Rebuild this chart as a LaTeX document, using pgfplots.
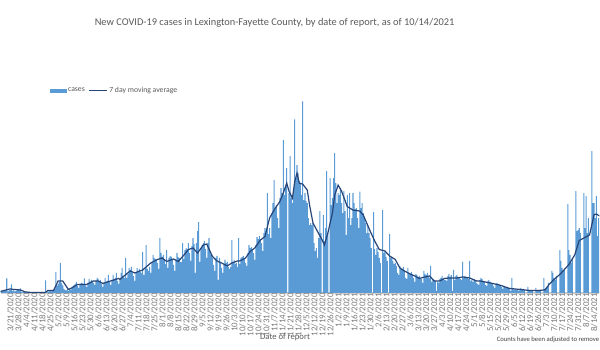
\documentclass[border=0pt]{standalone}
\usepackage{fontspec}
\setmainfont{Carlito}
\usepackage{pgfplots}
\usepackage{pgfplotstable}
\pgfplotsset{compat=1.18}
\definecolor{barblue}{HTML}{5B9BD5}
\definecolor{maline}{HTML}{264478}
\definecolor{txtgray}{HTML}{595959}
\definecolor{ticgray}{HTML}{7A7A7A}

% daily cases, one value per day starting 3/14/2020
\pgfplotstableread[row sep=\\]{v\\
2\\1\\3\\4\\3\\5\\4\\
4\\29\\3\\5\\6\\17\\4\\
5\\3\\4\\8\\7\\6\\9\\
2\\1\\2\\3\\2\\1\\2\\
0\\1\\1\\2\\1\\1\\1\\
1\\0\\1\\1\\2\\1\\1\\
25\\1\\2\\4\\5\\3\\6\\
6\\8\\42\\14\\18\\22\\60\\
20\\15\\8\\6\\5\\9\\4\\
8\\6\\12\\14\\16\\18\\22\\
14\\10\\16\\20\\20\\18\\29\\
15\\12\\20\\28\\22\\26\\24\\
20\\16\\24\\30\\28\\22\\26\\
18\\12\\20\\30\\22\\24\\36\\
22\\16\\26\\36\\28\\30\\40\\
24\\18\\28\\40\\50\\34\\30\\
70\\30\\38\\50\\46\\52\\40\\
34\\24\\40\\50\\44\\48\\42\\
40\\82\\36\\50\\96\\48\\44\\
52\\40\\62\\76\\70\\68\\66\\
60\\48\\110\\80\\72\\76\\66\\
58\\86\\50\\70\\74\\72\\66\\
56\\44\\66\\80\\72\\70\\62\\
62\\100\\68\\86\\90\\88\\100\\
80\\64\\94\\110\\98\\40\\100\\
124\\142\\62\\90\\96\\100\\104\\
88\\70\\100\\110\\84\\76\\70\\
56\\44\\70\\74\\26\\70\\62\\
50\\40\\56\\66\\60\\62\\52\\
48\\52\\106\\62\\66\\58\\60\\
52\\110\\58\\70\\72\\74\\68\\
60\\54\\80\\96\\90\\92\\86\\
80\\66\\96\\112\\108\\114\\106\\
100\\84\\120\\130\\124\\200\\118\\
130\\110\\160\\180\\226\\170\\176\\
150\\130\\190\\210\\200\\306\\196\\
210\\250\\0\\200\\274\\190\\180\\
200\\348\\230\\256\\240\\224\\220\\
196\\384\\186\\200\\184\\180\\150\\
136\\140\\136\\140\\100\\84\\90\\
70\\110\\164\\120\\0\\156\\104\\
130\\244\\120\\0\\230\\176\\190\\
230\\280\\220\\180\\200\\196\\210\\
180\\160\\204\\164\\116\\196\\150\\
200\\136\\150\\200\\180\\168\\170\\
150\\130\\203\\170\\180\\160\\150\\
140\\120\\136\\120\\110\\90\\0\\
162\\88\\76\\90\\82\\70\\60\\
0\\166\\80\\84\\72\\64\\0\\
118\\70\\72\\64\\58\\60\\54\\
40\\36\\54\\50\\46\\52\\44\\
30\\28\\50\\40\\38\\42\\36\\
30\\22\\38\\36\\32\\34\\28\\
28\\20\\44\\38\\36\\40\\34\\
30\\54\\22\\28\\26\\24\\4\\
22\\20\\28\\30\\34\\28\\26\\
26\\24\\34\\38\\32\\36\\4\\
46\\26\\34\\36\\32\\30\\28\\
26\\62\\30\\34\\32\\30\\28\\
64\\24\\26\\22\\28\\24\\20\\
18\\16\\26\\30\\28\\24\\22\\
16\\14\\24\\26\\22\\20\\18\\
14\\10\\18\\20\\18\\16\\14\\
12\\8\\14\\12\\10\\12\\10\\
8\\4\\30\\8\\6\\8\\6\\
6\\4\\8\\10\\6\\8\\6\\
0\\0\\12\\6\\4\\6\\5\\
0\\0\\10\\5\\4\\6\\6\\
0\\0\\30\\8\\10\\12\\20\\
0\\0\\44\\40\\30\\26\\34\\
0\\0\\86\\64\\50\\44\\46\\
0\\0\\178\\86\\76\\60\\70\\
0\\0\\204\\124\\126\\130\\120\\
0\\0\\200\\130\\194\\120\\150\\
0\\0\\284\\180\\180\\150\\194\\
114\\150\\0\\
}\casesdata

\begin{document}
\begin{tikzpicture}
\begin{axis}[
  width=450pt, height=175.125pt, scale only axis,
  clip mode=individual,
  xmin=2.62, xmax=526.64, ymin=0, ymax=467,
  enlargelimits=false,
  axis y line=none, ytick=\empty,
  axis x line*=bottom,
  x axis line style={draw=black!18, line width=0.9pt, -},
  xtick={7,14,...,518},
  xticklabels={3/21/2020,3/28/2020,4/4/2020,4/11/2020,4/18/2020,4/25/2020,5/2/2020,5/9/2020,5/16/2020,5/23/2020,5/30/2020,6/6/2020,6/13/2020,6/20/2020,6/27/2020,7/4/2020,7/11/2020,7/18/2020,7/25/2020,8/1/2020,8/8/2020,8/15/2020,8/22/2020,8/29/2020,9/5/2020,9/12/2020,9/19/2020,9/26/2020,10/3/2020,10/10/2020,10/17/2020,10/24/2020,10/31/2020,11/7/2020,11/14/2020,11/21/2020,11/28/2020,12/5/2020,12/12/2020,12/19/2020,12/26/2020,1/2/2021,1/9/2021,1/16/2021,1/23/2021,1/30/2021,2/6/2021,2/13/2021,2/20/2021,2/27/2021,3/6/2021,3/13/2021,3/20/2021,3/27/2021,4/3/2021,4/10/2021,4/17/2021,4/24/2021,5/1/2021,5/8/2021,5/15/2021,5/22/2021,5/29/2021,6/5/2021,6/12/2021,6/19/2021,6/26/2021,7/3/2021,7/10/2021,7/17/2021,7/24/2021,7/31/2021,8/7/2021,8/14/2021},
  major tick length=0pt,
  xticklabel style={rotate=90, anchor=east, font=\fontsize{6.7}{7}\selectfont, text=ticgray, inner sep=0pt, yshift=-3.6pt},
  legend style={at={(rel axis cs:0.0817,0.867)}, anchor=west, draw=none, fill=none,
    font=\fontsize{5.8}{6}\selectfont, text=txtgray, inner sep=0pt,
    nodes={inner sep=1pt}},
  legend columns=2,
  /tikz/every even column/.append style={column sep=2pt},
]
\addplot[ybar, bar width=0.9, fill=barblue, draw=none,
  legend image code/.code={\fill[barblue] (0pt,-1.4pt) rectangle (12.75pt,1.4pt);}]
  table[x expr=\coordindex, y=v] {\casesdata};
\addlegendentry{cases}
\addplot[maline, line width=0.9pt, mark=none,
  legend image code/.code={\draw[maline, line width=0.9pt] (0pt,0pt) -- (13.5pt,0pt);}]
  coordinates {(0,2) (2.6,3) (11,8) (14,7) (20,6) (24,2) (29,1) (42,1) (44,5) (49,5) (53,24) (57,24) (59,17) (62,7) (65,10) (70,17) (78,17) (84,24) (88,24) (92,19) (99,24) (106,29) (107,27) (116,44) (120,40) (127,46) (134,60) (140,67) (144,70) (148,63) (154,68) (158,63) (162,73) (167,87) (171,90) (175,80) (180,96) (183,98) (188,73) (192,64) (196,60) (201,54) (205,60) (210,64) (212,64) (217,70) (221,83) (225,90) (230,106) (234,113) (238,150) (243,170) (247,183) (250,200) (253,220) (255,204) (258,190) (260,223) (262,240) (264,220) (267,218) (271,206) (273,176) (276,140) (280,123) (284,106) (286,96) (289,120) (293,160) (295,196) (298,216) (301,204) (306,173) (311,166) (317,164) (320,156) (323,140) (326,124) (330,104) (334,87) (339,84) (343,74) (348,67) (352,50) (356,44) (361,38) (365,34) (369,29) (374,32) (378,34) (382,24) (387,24) (391,29) (396,30) (402,30) (407,32) (413,30) (419,24) (422,24) (431,20) (439,16) (448,9) (457,7) (465,5) (474,5) (479,6) (483,18) (487,27) (492,37) (496,47) (500,57) (505,76) (509,105) (513,110) (518,116) (522,157) (524,158) (527,154)};
\addlegendentry{7 day moving average}
\path (rel axis cs:0,-0.2420) rectangle (rel axis cs:1,1.2570);
\node[text=txtgray, font=\fontsize{7.8}{8}\selectfont] at (rel axis cs:0.4575,1.1585) {New COVID-19 cases in Lexington-Fayette County, by date of report, as of 10/14/2021};
\node[text=txtgray, font=\fontsize{6.5}{7}\selectfont] at (rel axis cs:0.475,-0.1906) {Date of report};
\node[anchor=east, text=black!75, font=\fontsize{5}{6}\selectfont, inner sep=0pt] at (rel axis cs:1,-0.1991) {Counts have been adjusted to remove};
\end{axis}
\end{tikzpicture}
\end{document}
